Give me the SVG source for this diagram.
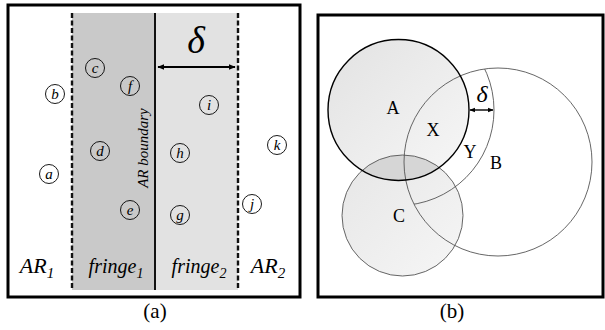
<svg xmlns="http://www.w3.org/2000/svg" width="605" height="330" viewBox="0 0 605 330">
<style>
.frame{fill:#fff;stroke:#000;stroke-width:3}
.dash{stroke:#111;stroke-width:2.4;stroke-dasharray:5 2.5;fill:none}
.node circle{fill:none;stroke:#000;stroke-width:0.9}
.node text{font-style:italic;font-size:15px;text-anchor:middle}
.lbl{font-style:italic;text-anchor:middle}
.cap{font-size:21px;text-anchor:middle}
.blbl{font-size:18px;text-anchor:middle}
.thin{fill:none;stroke:#555;stroke-width:0.9}
</style>
<defs>
<marker id="ah" viewBox="0 0 10 10" refX="9" refY="5" markerWidth="7" markerHeight="7" orient="auto-start-reverse" markerUnits="userSpaceOnUse">
<path d="M0,1 L10,5 L0,9 z" fill="#000"/>
</marker>
<marker id="ah2" viewBox="0 0 10 10" refX="9" refY="5" markerWidth="5.5" markerHeight="5.5" orient="auto-start-reverse" markerUnits="userSpaceOnUse">
<path d="M0,1 L10,5 L0,9 z" fill="#000"/>
</marker>
<linearGradient id="gA" x1="0" y1="0" x2="1" y2="1">
<stop offset="0" stop-color="#e2e2e2"/><stop offset="1" stop-color="#f7f7f7"/>
</linearGradient>
<linearGradient id="gC" x1="0" y1="0" x2="1" y2="1">
<stop offset="0" stop-color="#e6e6e6"/><stop offset="1" stop-color="#f6f6f6"/>
</linearGradient>
<clipPath id="clipA"><circle cx="398.5" cy="110" r="70.5"/></clipPath>
<clipPath id="clipB"><circle cx="498" cy="162" r="94"/></clipPath>
</defs>

<g font-family="Liberation Serif">
<!-- Panel (a) -->
<g id="panel-a">
<rect class="frame" x="8" y="5" width="292" height="292"/>
<rect x="72" y="13" width="83" height="277" fill="#c9c9c9"/>
<rect x="155" y="13" width="83" height="277" fill="#e2e2e2"/>
<line class="dash" x1="72" y1="13" x2="72" y2="290"/>
<line class="dash" x1="238" y1="13" x2="238" y2="290"/>
<line x1="155" y1="13" x2="155" y2="290" stroke="#111" stroke-width="2"/>
<text class="lbl" x="148" y="148" font-size="15" transform="rotate(-90 148 148)">AR boundary</text>
<text class="lbl" x="196" y="53" font-size="38">δ</text>
<line x1="158" y1="67" x2="235" y2="67" stroke="#000" stroke-width="1.8" marker-start="url(#ah)" marker-end="url(#ah)"/>
<text class="lbl" x="37" y="273" font-size="22">AR<tspan font-size="15" dy="5">1</tspan></text>
<text class="lbl" x="116" y="273" font-size="20">fringe<tspan font-size="14" dy="5">1</tspan></text>
<text class="lbl" x="199" y="273" font-size="20">fringe<tspan font-size="14" dy="5">2</tspan></text>
<text class="lbl" x="268" y="273" font-size="22">AR<tspan font-size="15" dy="5">2</tspan></text>
</g>
<g id="node-a" class="node"><circle cx="49" cy="174" r="9.5"/><text x="49" y="178.5">a</text></g>
<g id="node-b" class="node"><circle cx="55" cy="94" r="9.5"/><text x="55" y="98.5">b</text></g>
<g id="node-c" class="node"><circle cx="95" cy="68" r="9.5"/><text x="95" y="72.5">c</text></g>
<g id="node-d" class="node"><circle cx="100" cy="151" r="9.5"/><text x="100" y="155.5">d</text></g>
<g id="node-e" class="node"><circle cx="130" cy="210" r="9.5"/><text x="130" y="214.5">e</text></g>
<g id="node-f" class="node"><circle cx="130" cy="86" r="9.5"/><text x="130" y="90.5">f</text></g>
<g id="node-g" class="node"><circle cx="180" cy="215" r="9.5"/><text x="180" y="219.5">g</text></g>
<g id="node-h" class="node"><circle cx="180" cy="153" r="9.5"/><text x="180" y="157.5">h</text></g>
<g id="node-i" class="node"><circle cx="209" cy="105" r="9.5"/><text x="209" y="109.5">i</text></g>
<g id="node-j" class="node"><circle cx="252" cy="204" r="9.5"/><text x="252" y="208.5">j</text></g>
<g id="node-k" class="node"><circle cx="277" cy="145" r="9.5"/><text x="277" y="149.5">k</text></g>
<text class="cap" x="155" y="318">(a)</text>

<!-- Panel (b) -->
<g id="panel-b">
<rect class="frame" x="318" y="15" width="285" height="282"/>
</g>
<g id="circle-C"><circle cx="402.5" cy="215.5" r="60.5" fill="url(#gC)"/></g>
<g id="circle-A"><circle cx="398.5" cy="110" r="70.5" fill="url(#gA)"/>
<circle cx="402.5" cy="215.5" r="60.5" fill="#d6d6d6" clip-path="url(#clipA)"/></g>
<g id="connectors">
<circle class="thin" cx="402.5" cy="215.5" r="60.5"/>
<circle class="thin" cx="498" cy="162" r="94"/>
<circle class="thin" cx="398.5" cy="110" r="95.5" clip-path="url(#clipB)"/>
<circle cx="398.5" cy="110" r="70.5" fill="none" stroke="#000" stroke-width="1.4"/>
<line x1="470" y1="110" x2="493" y2="110" stroke="#000" stroke-width="1.4" marker-start="url(#ah2)" marker-end="url(#ah2)"/>
</g>
<g id="labels-b">
<text class="blbl" x="393" y="114">A</text>
<text class="blbl" x="433" y="136">X</text>
<text class="blbl" x="470" y="158">Y</text>
<text class="blbl" x="496" y="169">B</text>
<text class="blbl" x="399" y="222">C</text>
<text class="lbl" x="482" y="102" font-size="24">δ</text>
</g>
<text class="cap" x="452" y="318">(b)</text>
</g>
</svg>
